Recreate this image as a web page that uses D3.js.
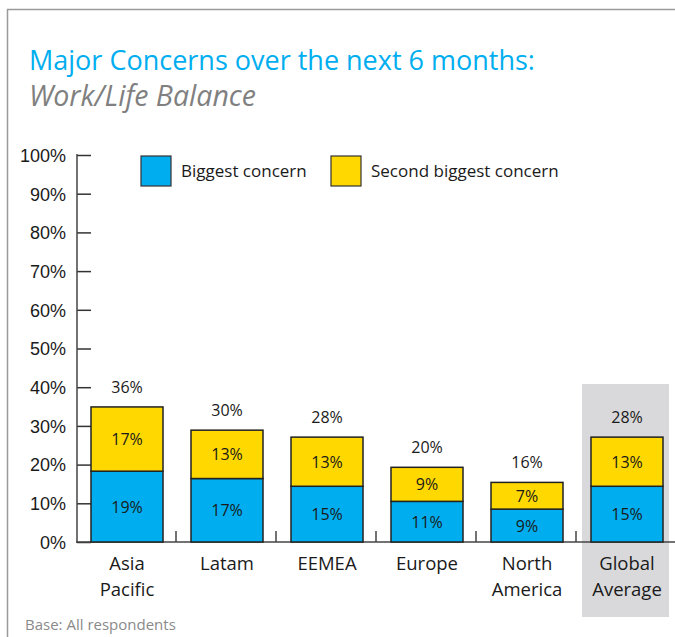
<!DOCTYPE html>
<html>
<head>
    <meta charset='utf-8' />
    <title>Major Concerns - Work/Life Balance</title>
    <script src="https://d3js.org/d3.v7.min.js" charset="utf-8"></script>
    <style>
        body {
            margin: 0;
            font-family: "Open Sans", sans-serif;
            background: #fff;
        }
        .axis text {
            font-size: 18px;
            fill: #1a1a1a;
        }
        .label {
            font-size: 16px;
            fill: #1a1a1a;
        }
    </style>
</head>
<body>
    <div id="graphic"></div>
    <script>
        // regions along the x axis
        var regions = ["Asia|Pacific", "Latam", "EEMEA", "Europe", "North|America", "Global|Average"];
        // bar heights (percent)
        var biggest = [18.3, 16.4, 14.4, 10.5, 8.5, 14.4];
        var second = [16.6, 12.5, 12.7, 8.8, 6.9, 12.7];
        // printed labels
        var biggestLabels = ["19%", "17%", "15%", "11%", "9%", "15%"];
        var secondLabels = ["17%", "13%", "13%", "9%", "7%", "13%"];
        var totalLabels = ["36%", "30%", "28%", "20%", "16%", "28%"];
        var yTicks = [0, 10, 20, 30, 40, 50, 60, 70, 80, 90, 100];
        var seriesNames = ["Biggest concern", "Second biggest concern"];

        var W = 675, H = 637;
        var colors = {blue: "#00aeef", yellow: "#ffd800"};

        var svg = d3.select("#graphic").append("svg")
            .attr("width", W)
            .attr("height", H);

        // frame
        svg.append("path")
            .attr("d", "M7.5," + H + "V9.5H" + W)
            .attr("fill", "none")
            .attr("stroke", "#9a9a9a")
            .attr("stroke-width", 1.5);

        // titles
        svg.append("text")
            .attr("x", 29).attr("y", 70)
            .style("font-size", "27px")
            .style("fill", colors.blue)
            .text("Major Concerns over the next 6 months:");
        svg.append("text")
            .attr("x", 29).attr("y", 106)
            .style("font-size", "28.5px")
            .style("font-style", "italic")
            .style("fill", "#808080")
            .text("Work/Life Balance");

        var x = d3.scaleBand()
            .domain(regions)
            .range([77, 677])
            .paddingInner(0.28)
            .paddingOuter(0.14);

        var y = d3.scaleLinear()
            .domain([0, 100])
            .range([542, 155]);

        // highlight for global average
        var last = regions[regions.length - 1];
        svg.append("rect")
            .attr("x", x(last) - 9)
            .attr("y", 384)
            .attr("width", x.bandwidth() + 15)
            .attr("height", 233)
            .attr("fill", "#d9d9db");

        // y axis
        var gy = svg.append("g")
            .attr("class", "axis")
            .attr("transform", "translate(77,0)")
            .call(d3.axisRight(y).tickValues(yTicks).tickSize(14)
                .tickFormat(function (d) { return d + "%"; }));
        gy.select(".domain").remove();
        gy.selectAll("line").attr("stroke", "#333").attr("stroke-width", 1.5);
        gy.selectAll("text")
            .attr("x", -11)
            .attr("dy", "0.35em")
            .style("text-anchor", "end");
        svg.append("line")
            .attr("x1", 77).attr("x2", 77)
            .attr("y1", 154).attr("y2", 543)
            .attr("stroke", "#444").attr("stroke-width", 1.5);

        // x axis baseline and separators
        svg.append("line")
            .attr("x1", 76).attr("x2", W)
            .attr("y1", 542).attr("y2", 542)
            .attr("stroke", "#444").attr("stroke-width", 1.5);
        var step = x.step();
        svg.selectAll(".sep")
            .data(regions.slice(1))
            .enter().append("line")
            .attr("class", "sep")
            .attr("x1", function (d) { return x(d) - step * 0.14 - 1; })
            .attr("x2", function (d) { return x(d) - step * 0.14 - 1; })
            .attr("y1", 542).attr("y2", 531)
            .attr("stroke", "#444").attr("stroke-width", 1.5);

        // category labels
        svg.selectAll(".cat")
            .data(regions)
            .enter().append("text")
            .attr("class", "axis")
            .attr("text-anchor", "middle")
            .style("font-size", "18.5px")
            .style("fill", "#1a1a1a")
            .each(function (d) {
                var t = d3.select(this);
                d.split("|").forEach(function (line, i) {
                    t.append("tspan")
                        .attr("x", x(d) + x.bandwidth() / 2)
                        .attr("y", 570 + i * 26)
                        .text(line);
                });
            });

        // stacked bars
        var bars = svg.selectAll(".bar")
            .data(regions)
            .enter().append("g");

        bars.append("rect")
            .attr("x", function (d) { return x(d); })
            .attr("width", x.bandwidth())
            .attr("y", function (d, i) { return y(biggest[i]); })
            .attr("height", function (d, i) { return y(0) - y(biggest[i]); })
            .attr("fill", colors.blue)
            .attr("stroke", "#222").attr("stroke-width", 1.5);

        bars.append("rect")
            .attr("x", function (d) { return x(d); })
            .attr("width", x.bandwidth())
            .attr("y", function (d, i) { return y(biggest[i] + second[i]); })
            .attr("height", function (d, i) { return y(0) - y(second[i]); })
            .attr("fill", colors.yellow)
            .attr("stroke", "#222").attr("stroke-width", 1.5);

        bars.append("text")
            .attr("class", "label")
            .attr("text-anchor", "middle")
            .attr("x", function (d) { return x(d) + x.bandwidth() / 2; })
            .attr("y", function (d, i) { return y(biggest[i] / 2) + 6; })
            .text(function (d, i) { return biggestLabels[i]; });

        bars.append("text")
            .attr("class", "label")
            .attr("text-anchor", "middle")
            .attr("x", function (d) { return x(d) + x.bandwidth() / 2; })
            .attr("y", function (d, i) { return y(biggest[i] + second[i] / 2) + 6; })
            .text(function (d, i) { return secondLabels[i]; });

        bars.append("text")
            .attr("class", "label")
            .attr("text-anchor", "middle")
            .attr("x", function (d) { return x(d) + x.bandwidth() / 2; })
            .attr("y", function (d, i) { return y(biggest[i] + second[i]) - 14; })
            .text(function (d, i) { return totalLabels[i]; });

        // legend
        var legend = svg.selectAll(".legend")
            .data(seriesNames)
            .enter().append("g")
            .attr("transform", function (d, i) { return "translate(" + (141 + i * 190) + ",156)"; });
        legend.append("rect")
            .attr("width", 30).attr("height", 30)
            .attr("fill", function (d, i) { return i === 0 ? colors.blue : colors.yellow; })
            .attr("stroke", "#333").attr("stroke-width", 1.2);
        legend.append("text")
            .attr("x", 40).attr("y", 21)
            .style("font-size", "17px")
            .style("fill", "#1a1a1a")
            .text(function (d) { return d; });

        // footnote
        svg.append("text")
            .attr("x", 25).attr("y", 630)
            .style("font-size", "15px")
            .style("fill", "#8a8a8a")
            .text("Base: All respondents");
    </script>
</body>
</html>
